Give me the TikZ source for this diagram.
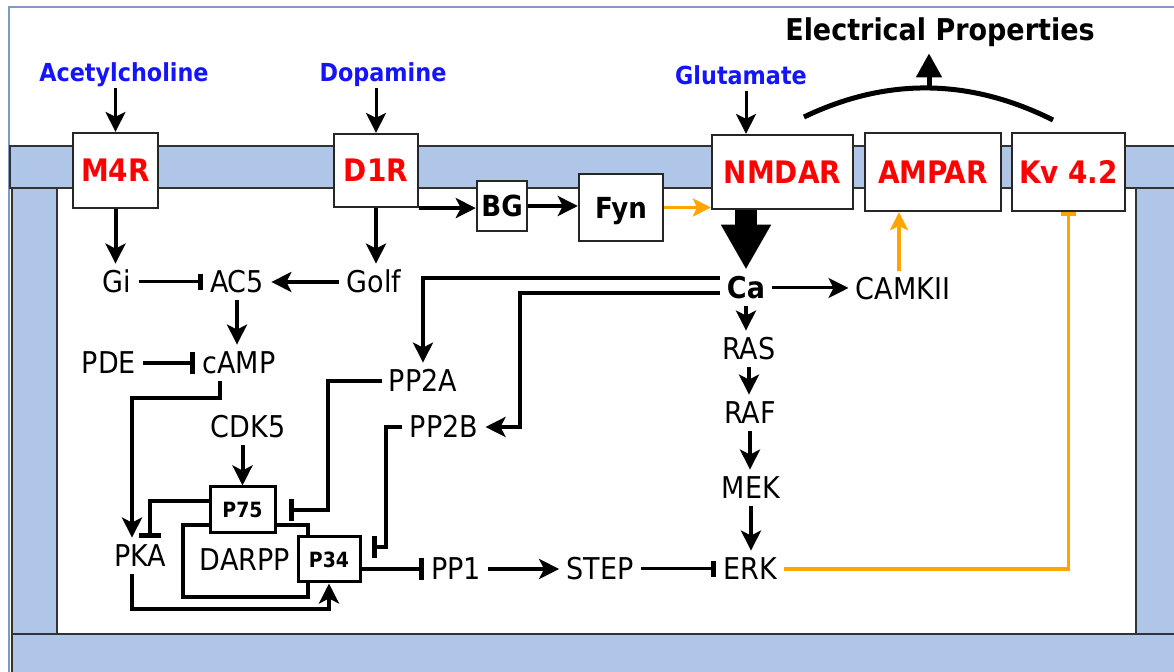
\documentclass[tikz,border=0pt]{standalone}
\usepackage{fontspec}
\setmainfont{DejaVu Sans Condensed}
\usetikzlibrary{arrows.meta,calc}
\definecolor{memb}{RGB}{176,198,232}
\definecolor{frameblue}{RGB}{125,155,195}
\definecolor{orng}{RGB}{255,165,0}
\definecolor{ligblue}{RGB}{20,20,255}
\definecolor{recred}{RGB}{255,0,0}
\tikzset{
  txt/.style={font=\fontsize{15pt}{18pt}\selectfont, inner sep=3.5pt, text height=11pt, text depth=0pt},
  boldtxt/.style={txt, font=\bfseries\fontsize{15pt}{18pt}\selectfont},
  lig/.style={font=\bfseries\fontsize{12.4pt}{15pt}\selectfont, text=ligblue, inner sep=3pt, text height=9pt, text depth=0pt},
  rec/.style={draw=black!85, line width=1.1pt, fill=white, text=recred, font=\bfseries\fontsize{15.5pt}{18pt}\selectfont, inner sep=0pt, text height=11.3pt, text depth=0pt},
  kbox/.style={draw=black!85, line width=1.2pt, fill=white, font=\bfseries\fontsize{14.5pt}{18pt}\selectfont, inner sep=0pt, text height=10.6pt, text depth=0pt},
  pbox/.style={draw, line width=1.5pt, fill=white, font=\bfseries\fontsize{10.5pt}{12pt}\selectfont, inner sep=0pt, text height=7.7pt, text depth=0pt},
  membr/.style={fill=memb, draw=black!80, line width=0.9pt},
  act/.style={line width=2pt, -{Stealth[length=10pt,width=10pt,inset=2.5pt]}},
  actthin/.style={line width=1.5pt, -{Stealth[length=10pt,width=10pt,inset=2.5pt]}},
  inh/.style={line width=2pt, -{Rectangle[length=2.5pt,width=11pt]}},
  inhthin/.style={line width=1.5pt, -{Rectangle[length=2.5pt,width=8pt]}},
  oact/.style={draw=orng, line width=1.6pt, -{Stealth[length=9pt,width=9pt,inset=2pt]}},
  oinh/.style={draw=orng, line width=1.6pt, -{Rectangle[length=2pt,width=7.5pt]}},
}
\begin{document}
\begin{tikzpicture}[x=0.5pt,y=-0.5pt]
\useasboundingbox (0,0) rectangle (1174,672);
\fill[white] (0,0) rectangle (1174,672);
% frame and membrane
\draw[frameblue, line width=0.9pt] (9,690) -- (9,7) -- (1190,7);
\draw[membr] (10,146) rectangle (1190,188);
\draw[membr] (12,188) rectangle (57,634);
\draw[membr] (1136,188) rectangle (1190,634);
\draw[membr] (12,634) rectangle (1190,690);
% DARPP outline
\draw[line width=1.7pt] (183,525) rectangle (308,597);

% receptors and boxes
\node[rec, minimum width=42.5pt, minimum height=37.5pt] (M4R) at (115.5,170.5) {M4R};
\node[rec, minimum width=42pt, minimum height=36.5pt] (D1R) at (376,170.5) {D1R};
\node[kbox, minimum width=25pt, minimum height=25pt] (BG) at (502,206) {BG};
\node[kbox, minimum width=42pt, minimum height=33.5pt] (Fyn) at (621,207.5) {Fyn};
\node[rec, minimum width=70.5pt, minimum height=37pt] (NMDAR) at (782.5,172) {NMDAR};
\node[rec, minimum width=68pt, minimum height=39pt] (AMPAR) at (933,172) {AMPAR};
\node[rec, minimum width=56.5pt, minimum height=39pt] (Kv) at (1068.5,172) {Kv 4.2};
\node[pbox, minimum width=32.5pt, minimum height=23pt] (P75) at (242.5,510) {P75};
\node[pbox, minimum width=31pt, minimum height=22.5pt] (P34) at (329,559.5) {P34};

% ligands and title
\node[lig] (ach) at (124,73) {Acetylcholine};
\node[lig] (dop) at (383,73) {Dopamine};
\node[lig] (glu) at (741,76) {Glutamate};
\node[boldtxt] (EP) at (940,30) {Electrical Properties};

% text nodes
\node[txt] (Gi) at (117,282) {Gi};
\node[txt] (AC5) at (237,282) {AC5};
\node[txt] (Golf) at (374,282) {Golf};
\node[txt] (cAMP) at (239,363) {cAMP};
\node[txt] (PDE) at (109,363) {PDE};
\node[txt] (PP2A) at (423,381) {PP2A};
\node[txt] (PP2B) at (444,427) {PP2B};
\node[txt] (CDK5) at (248,427) {CDK5};
\node[txt] (PKA) at (140,556) {PKA};
\node[txt] (DARPP) at (245,560) {DARPP};
\node[txt] (PP1) at (456,569) {PP1};
\node[txt] (STEP) at (600,569) {STEP};
\node[txt] (ERK) at (750,569) {ERK};
\node[txt] (MEK) at (751,488) {MEK};
\node[txt] (RAF) at (750,413) {RAF};
\node[txt] (RAS) at (749,349) {RAS};
\node[boldtxt] (Ca) at (746,288) {Ca};
\node[txt] (CAMKII) at (903,289) {CAMKII};

% helper coordinates
\coordinate (c1) at (220,398);
\coordinate (c2) at (132,398);
\coordinate (p75a) at ([yshift=4.5pt]P75.west);
\coordinate (p34a) at ([yshift=6pt]P34.east);
\coordinate (p34b) at ([yshift=-5pt]P34.east);
\coordinate (caA) at ([yshift=5pt]Ca.west);
\coordinate (caB) at ([yshift=-2.5pt]Ca.west);
\coordinate (cm) at ($(CAMKII.north)+(-4,0)$);
\coordinate (arcL) at (804,117);
\coordinate (arcR) at (1053,120);
\coordinate (apex) at (929,88);

% ligand arrows
\draw[actthin] (ach.south -| M4R.north) -- (M4R.north);
\draw[actthin] (dop.south -| D1R.north) -- (D1R.north);
\draw[actthin] (glu.south -| Ca.north) -- (Ca.north |- NMDAR.north);

% electrical properties
\draw[line width=2.5pt] (arcL) .. controls (886.7,77.3) and (969.7,78.3) .. (arcR);
\draw[line width=2.5pt, shorten >=2.5pt, -{Triangle[length=12pt,width=12.5pt]}] (apex) -- (apex |- EP.south);

% receptor outputs
\draw[act] (M4R.south) -- (M4R.south |- Gi.north);
\draw[act] (D1R.south) -- (D1R.south |- Golf.north);
\draw[act] (D1R.south east) -- (D1R.south east -| BG.west);
\draw[act] (BG.east) -- (BG.east -| Fyn.west);
\draw[oact] (Fyn.east) -- (Fyn.east -| NMDAR.west);
\draw[line width=11pt, -{Triangle[length=22.5pt,width=23.5pt]}] (NMDAR.south -| Ca.north) -- (Ca.north);

% cAMP pathway
\draw[inhthin] (Gi.east) -- (AC5.west);
\draw[act] (Golf.west) -- (AC5.east);
\draw[act] (AC5.south) -- (AC5.south |- cAMP.north);
\draw[inh] (PDE.east) -- (cAMP.west);
\draw[act] (cAMP.south -| c1) -- (c1) -- (c2) -- (c2 |- PKA.north);
\draw[act] (CDK5.south -| P75.north) -- (P75.north);
\draw[inh] (p75a) -| ($(PKA.north)+(10,0)$);
\draw[act] (PKA.south -| c2) |- ($(P34.south)+(0,26)$) -- (P34.south);
\draw[inh, shorten >=6pt] (PP2A.west) -| ($(P75.east)+(51,0)$) -- (P75.east);
\draw[inh, shorten >=5pt] (PP2B.west) -| ($(p34a)+(24,0)$) -- (p34a);
\draw[inh] (p34b) -- (p34b -| PP1.west);
\draw[act] (PP1.east) -- (STEP.west);
\draw[inhthin] (STEP.east) -- (ERK.west);

% Ca pathway
\draw[act] (caA) -| (PP2A.north);
\draw[act] (caB) -| ($(PP2B.east)+(34,0)$) -- (PP2B.east);
\draw[actthin] (Ca.east) -- (Ca.east -| CAMKII.west);
\draw[act] (Ca.south) -- (Ca.south |- RAS.north);
\draw[act] (RAS.south) -- (RAS.south |- RAF.north);
\draw[act] (RAF.south) -- (RAF.south |- MEK.north);
\draw[act] (MEK.south) -- (MEK.south |- ERK.north);
\draw[oact] (cm) -- (cm |- AMPAR.south);
\draw[oinh] (ERK.east) -| (Kv.south);
\end{tikzpicture}
\end{document}
